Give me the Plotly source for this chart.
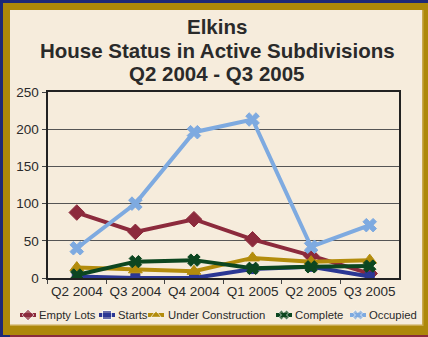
import plotly.graph_objects as go

# Quarterly house counts, Elkins active subdivisions
quarters = ["Q2 2004", "Q3 2004", "Q4 2004", "Q1 2005", "Q2 2005", "Q3 2005"]
empty_lots = [88, 62, 79, 52, 30, 6]
starts = [2, 0, 0, 12, 15, 2]
under_construction = [14, 11, 9, 27, 22, 24]
complete = [4, 22, 24, 13, 15, 16]
occupied = [40, 100, 196, 213, 42, 71]
y_ticks = [0, 50, 100, 150, 200, 250]
title_lines = ["Elkins", "House Status in Active Subdivisions", "Q2 2004 - Q3 2005"]

series = [
    ("Empty Lots", empty_lots, "#8c2a3c", "diamond", 12),
    ("Starts", starts, "#2b3794", "square", 9),
    ("Under Construction", under_construction, "#b38c0c", "triangle-up", 12),
    ("Complete", complete, "#0c4620", "x", 11),
    ("Occupied", occupied, "#7eaae0", "x", 12),
]

W, H = 428, 337
NAVY, GOLD, CREAM, TEXT = "#1d2878", "#ad880a", "#f6ecdc", "#2a2a2a"
FONT = "Liberation Sans, Arial, sans-serif"

# plot area in pixels (margins are zero, so paper = pixels)
px_l, px_r, px_t, px_b = 47.5, 399, 92, 278

fig = go.Figure()

for name, vals, color, sym, size in series:
    fig.add_trace(go.Scatter(
        x=quarters, y=vals, name=name, mode="lines+markers",
        line=dict(color=color, width=4),
        marker=dict(symbol=sym, size=size, color=color,
                    line=dict(color=color, width=1)),
        showlegend=False, xaxis="x", yaxis="y",
    ))

# hand-built one-row legend on a pixel overlay axis
legend_y = 315
legend_items = [(20, 37), (99, 116), (148, 166), (276, 293), (350, 367)]
annotations = []
for (name, vals, color, sym, size), (x0, tx) in zip(series, legend_items):
    x1 = x0 + 16
    fig.add_trace(go.Scatter(
        x=[x0, (x0 + x1) / 2, x1], y=[legend_y] * 3,
        mode="lines+markers",
        line=dict(color=color, width=4),
        marker=dict(symbol=sym, size=[0, 9, 0], color=color),
        showlegend=False, hoverinfo="skip", xaxis="x2", yaxis="y2",
    ))
    annotations.append(dict(
        x=tx, y=legend_y, xref="x2", yref="y2", text=name,
        showarrow=False, xanchor="left", yanchor="middle",
        font=dict(family=FONT, size=11.3, color=TEXT),
    ))

# three-line bold heading
for line, cy in zip(title_lines, [26, 50, 73]):
    annotations.append(dict(
        x=217, y=cy, xref="x2", yref="y2", text=f"<b>{line}</b>",
        showarrow=False, xanchor="center", yanchor="middle",
        font=dict(family=FONT, size=20.5, color=TEXT),
    ))

shapes = [
    dict(type="rect", xref="paper", yref="paper", layer="below",
         x0=3 / W, x1=1, y0=1 - 335 / H, y1=1 - 3 / H,
         fillcolor=GOLD, line=dict(width=0)),
    dict(type="rect", xref="paper", yref="paper", layer="below",
         x0=10 / W, x1=1, y0=0, y1=1 - 335 / H,
         fillcolor="#8a2c3c", line=dict(width=0)),
    dict(type="rect", xref="paper", yref="paper", layer="below",
         x0=10 / W, x1=423.5 / W, y0=1 - 326 / H, y1=1 - 10 / H,
         fillcolor="#c9a94e", line=dict(width=0)),
    dict(type="rect", xref="paper", yref="paper", layer="below",
         x0=10 / W, x1=422 / W, y0=1 - 324.5 / H, y1=1 - 10 / H,
         fillcolor=CREAM, line=dict(width=0)),
]

fig.update_layout(
    width=W, height=H,
    margin=dict(l=0, r=0, t=0, b=0, pad=0, autoexpand=False),
    paper_bgcolor=NAVY, plot_bgcolor="rgba(0,0,0,0)",
    font=dict(family=FONT, color=TEXT),
    xaxis=dict(
        domain=[px_l / W, px_r / W], range=[-0.5, 5.5], automargin=False,
        showgrid=False, showline=True, linecolor="#222", linewidth=2,
        mirror=True, ticks="outside", tickson="boundaries", ticklen=4,
        tickangle=0, tickcolor="#444", tickfont=dict(size=13.5, color=TEXT),
        zeroline=False,
    ),
    yaxis=dict(
        domain=[1 - px_b / H, 1 - px_t / H], range=[0, 250], automargin=False,
        tickvals=y_ticks, showgrid=True, gridcolor="#555", gridwidth=1,
        showline=True, linecolor="#222", linewidth=2, mirror=True,
        ticks="outside", ticklen=4, tickcolor="#444",
        tickfont=dict(size=13.5, color=TEXT), zeroline=False,
    ),
    xaxis2=dict(domain=[0, 1], range=[0, W], visible=False, anchor="y2",
                fixedrange=True, automargin=False),
    yaxis2=dict(domain=[0, 1], range=[H, 0], visible=False, anchor="x2",
                fixedrange=True, automargin=False),
    shapes=shapes,
    annotations=annotations,
    showlegend=False,
)

fig.write_html("out.html")
